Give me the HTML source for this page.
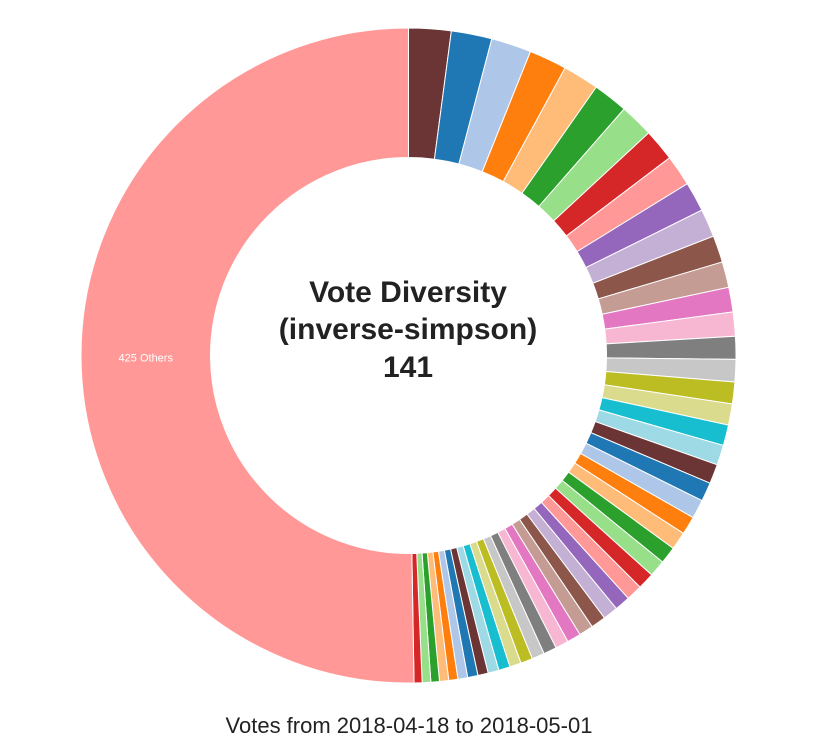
<!DOCTYPE html>
<html><head><meta charset="utf-8"><style>
html,body{margin:0;padding:0;background:#fff;}
svg{display:block;font-family:"Liberation Sans",sans-serif;}
</style></head><body>
<svg id="chart" width="822" height="753" viewBox="0 0 822 753">
<g id="slices"></g>
<text id="othersLabel" x="146" y="362" font-size="11" fill="#fff" text-anchor="middle">425 Others</text>
<text x="408" y="302" font-size="30" font-weight="bold" fill="#222" text-anchor="middle">Vote Diversity</text>
<text x="408" y="339" font-size="30" font-weight="bold" fill="#222" text-anchor="middle">(inverse-simpson)</text>
<text x="408" y="377" font-size="30" font-weight="bold" fill="#222" text-anchor="middle">141</text>
<text x="409" y="733" font-size="22" fill="#222" text-anchor="middle">Votes from 2018-04-18 to 2018-05-01</text>
</svg>
<script>
const values = [7.4,7.1,7.0,6.6,6.3,6.1,5.9,5.6,5.4,5.2,4.9,4.7,4.5,4.3,4.2,4.0,3.9,3.8,3.7,3.6,3.5,3.4,3.3,3.3,3.2,3.1,3.0,2.9,2.9,2.8,2.7,2.6,2.6,2.5,2.4,2.3,2.3,2.2,2.1,2.0,2.0,1.9,1.8,1.8,1.7,1.6,1.6,1.5,1.5,1.4];
const othersValue = 178;
const othersLabel = "425 Others";
const palette = ["#6b3535","#1f77b4","#aec7e8","#ff7f0e","#ffbb78","#2ca02c","#98df8a","#d62728","#ff9896","#9467bd","#c5b0d5","#8c564b","#c49c94","#e377c2","#f7b6d2","#7f7f7f","#c7c7c7","#bcbd22","#dbdb8d","#17becf","#9edae5"];
const cx=408.5, cy=355.5, R=327.5, r=198;
const g=document.getElementById('slices');
const all=values.concat([othersValue]);
const total=all.reduce((a,b)=>a+b,0);
function pt(a,rad){return [cx+rad*Math.sin(a), cy-rad*Math.cos(a)];}
let acc=0;
all.forEach((v,i)=>{
  const a0=acc/total*2*Math.PI; acc+=v; const a1=acc/total*2*Math.PI;
  const large=(a1-a0)>Math.PI?1:0;
  const p0=pt(a0,R),p1=pt(a1,R),q1=pt(a1,r),q0=pt(a0,r);
  const d=`M${p0[0]},${p0[1]}A${R},${R} 0 ${large} 1 ${p1[0]},${p1[1]}L${q1[0]},${q1[1]}A${r},${r} 0 ${large} 0 ${q0[0]},${q0[1]}Z`;
  const p=document.createElementNS('http://www.w3.org/2000/svg','path');
  p.setAttribute('d',d);
  p.setAttribute('fill',palette[i%palette.length]);
  p.setAttribute('stroke','#fff');
  p.setAttribute('stroke-width','1');
  
  
  g.appendChild(p);
  if(i===values.length){
    const m=(a0+a1)/2, c=pt(m,(R+r)/2);
    const t=document.getElementById('othersLabel');
    t.setAttribute('x',c[0]); t.setAttribute('y',c[1]+4);
    t.textContent=othersLabel;
  }
});
</script>
</body></html>
